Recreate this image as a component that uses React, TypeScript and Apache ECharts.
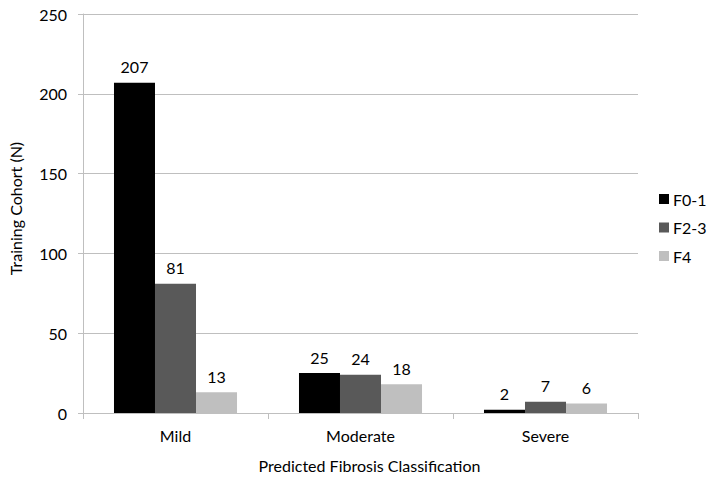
import React, { useEffect, useRef } from "react";
import * as echarts from "echarts";

const categories = ["Mild", "Moderate", "Severe"];
const seriesNames = ["F0-1", "F2-3", "F4"];
const f01Values = [207, 25, 2];
const f23Values = [81, 24, 7];
const f4Values = [13, 18, 6];
const yTicks = [0, 50, 100, 150, 200, 250];
const colors = ["#000000", "#595959", "#bfbfbf"];

const FONT = "Lato, sans-serif";
const FS = 16;
const TXT = "#000";

export default function App() {
  const ref = useRef<HTMLDivElement>(null);
  useEffect(() => {
    if (!ref.current) return;
    const chart = echarts.init(ref.current, undefined, { renderer: "svg" });
    const values = [f01Values, f23Values, f4Values];
    chart.setOption({
      animation: false,
      textStyle: { fontFamily: FONT },
      grid: { left: 83, right: 76, top: 14, bottom: 65, containLabel: false, outerBoundsMode: "none" },
      legend: {
        orient: "vertical",
        left: 654,
        top: 186,
        itemWidth: 10,
        itemHeight: 10,
        itemGap: 12.5,
        icon: "rect",
        data: seriesNames,
        textStyle: { fontFamily: FONT, fontSize: FS, color: TXT, padding: [0, 0, 0, -1] },
      },
      xAxis: {
        type: "category",
        data: categories,
        name: "Predicted Fibrosis Classification",
        nameLocation: "middle",
        nameGap: 44,
        nameTextStyle: { fontFamily: FONT, fontSize: FS, color: TXT, padding: [0, 0, 0, 18] },
        axisLine: { lineStyle: { color: "#bfbfbf", width: 1 } },
        axisTick: { show: true, alignWithLabel: false, length: 6, lineStyle: { color: "#bfbfbf" } },
        axisLabel: { fontFamily: FONT, fontSize: FS, color: TXT, margin: 14 },
      },
      yAxis: {
        type: "value",
        min: yTicks[0],
        max: yTicks[yTicks.length - 1],
        interval: 50,
        name: "Training Cohort (N)",
        nameLocation: "middle",
        nameGap: 60,
        nameTextStyle: { fontFamily: FONT, fontSize: FS, color: TXT, padding: [0, 0, 0, 10] },
        axisLine: { show: true, lineStyle: { color: "#bfbfbf", width: 1 } },
        axisTick: { show: true, length: 5, lineStyle: { color: "#bfbfbf" } },
        axisLabel: { fontFamily: FONT, fontSize: FS, color: TXT, margin: 16 },
        splitLine: { lineStyle: { color: "#bfbfbf", width: 1 } },
      },
      series: seriesNames.map((name, i) => ({
        name,
        type: "bar",
        data: values[i],
        barGap: "0%",
        barCategoryGap: "33.5%",
        itemStyle: { color: colors[i] },
        label: {
          show: true,
          position: "top",
          distance: 8,
          fontFamily: FONT,
          fontSize: FS,
          color: TXT,
        },
      })),
    });
    return () => chart.dispose();
  }, []);
  return <div ref={ref} style={{ width: 714, height: 478, position: "absolute", left: 0, top: 0, background: "#fff" }} />;
}
